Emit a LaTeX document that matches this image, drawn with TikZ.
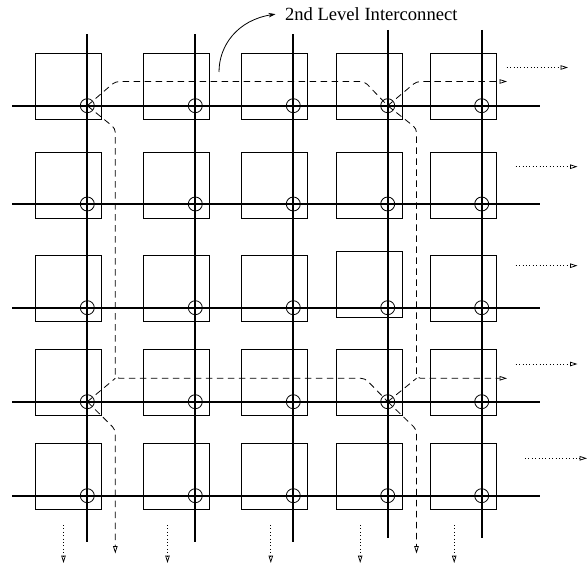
\documentclass[tikz,border=0pt]{standalone}
\usepackage{fontspec}
\setmainfont{Liberation Serif}
\usetikzlibrary{arrows.meta}
\tikzset{
  tile/.style={draw, line width=0.8pt, minimum size=66pt, inner sep=0pt, outer sep=0pt},
  bus/.style={line width=1.9pt},
  sw/.style={draw, circle, line width=0.8pt, minimum size=14pt, inner sep=0pt},
  dl/.style={line width=0.8pt, dash pattern=on 6.5pt off 4.5pt, rounded corners=4pt},
  dotl/.style={line width=0.75pt, dash pattern=on 0.8pt off 2.6pt},
  otip/.style={-{Triangle[open, length=7.5pt, width=4.5pt, line width=0.75pt]}},
}
\begin{document}
\begin{tikzpicture}[x=1pt,y=-1pt]
\useasboundingbox (0,0) rectangle (587,564);
% tiles
\foreach \c [count=\i] in {87.3,195.3,293.3,387.7,481.7}{
  \foreach \r [count=\j] in {105.7,204,307.7,401.7,495.7}{
    \pgfmathsetmacro\dy{((\i==4) && (\j==3)) ? 23.5 : 19}
    \node[tile] (b\i\j) at (\c-18.6,\r-\dy) {};
  }
}
% buses
\foreach \c/\t/\b [count=\i] in {87.3/34.3/542.3,195.3/34.3/542.3,293.3/34.3/542.3,387.7/30/538.3,481.7/30/538.3}{
  \coordinate (vt\i) at (\c,\t);
  \coordinate (vb\i) at (\c,\b);
  \draw[bus] (vt\i) -- (vb\i);
}
\foreach \r [count=\j] in {105.7,204,307.7,401.7,495.7}{
  \coordinate (hl\j) at (12.3,\r);
  \coordinate (hr\j) at (539.5,\r);
  \draw[bus] (hl\j) -- (hr\j);
}
% switches
\foreach \c [count=\i] in {87.3,195.3,293.3,387.7,481.7}{
  \foreach \r [count=\j] in {105.7,204,307.7,401.7,495.7}{
    \node[sw] (s\i\j) at (\c,\r) {};
  }
}
% dashed second level interconnect
\coordinate (ta) at (115.3,81.5);
\coordinate (tb) at (364.5,81.5);
\coordinate (tc) at (416.5,81.5);
\coordinate (te) at (507,81.5);
\coordinate (da) at (115.3,128.5);
\coordinate (db) at (115.3,378.3);
\coordinate (dc) at (365,378.3);
\coordinate (dd) at (416.5,128.5);
\coordinate (de) at (416.5,378.3);
\coordinate (df) at (507,378.3);
\coordinate (dg) at (115.3,429.5);
\coordinate (dh) at (115.3,553.5);
\coordinate (di) at (416.5,429.5);
\coordinate (dj) at (416.5,553.5);
\draw[dl] (s11.center) -- (ta) -- (tb) -- (s41.center);
\draw[dl, otip] (s41.center) -- (tc) -- (te);
\draw[dl] (s11.center) -- (da) -- (db) -- (dc) -- (s44.center);
\draw[dl] (s14.center) -- (db);
\draw[dl, otip] (s14.center) -- (dg) -- (dh);
\draw[dl, otip] (s41.center) -- (dd) -- (de) -- (df);
\draw[dl] (s44.center) -- (de);
\draw[dl, otip] (s44.center) -- (di) -- (dj);
% dotted continuation arrows (right)
\foreach \y/\a/\b [count=\k] in {67.5/506.7/568, 166.7/515.7/577.5, 265.7/515.7/577.5, 364/515.7/577.5, 458.3/525/587}{
  \coordinate (ra\k) at (\a,\y);
  \coordinate (rb\k) at (\b,\y);
  \draw[dotl, otip] (ra\k) -- (rb\k);
}
% dotted continuation arrows (bottom)
\foreach \x [count=\k] in {63.5,167.5,270.8,360.2,454.2}{
  \coordinate (ua\k) at (\x,525);
  \coordinate (ub\k) at (\x,563);
  \draw[dotl, otip] (ua\k) -- (ub\k);
}
% label
\node[anchor=base west, inner sep=0pt, outer sep=0pt, font=\fontsize{18.6}{20}\selectfont] (lbl) at (285,20.5) {2nd Level Interconnect};
\coordinate (cs) at (219,72);
\draw[line width=0.8pt, -{Stealth[length=7pt, width=4.5pt]}] (cs) .. controls (219,45) and (238,20) .. ([xshift=-9.5pt]lbl.west);
\end{tikzpicture}
\end{document}
